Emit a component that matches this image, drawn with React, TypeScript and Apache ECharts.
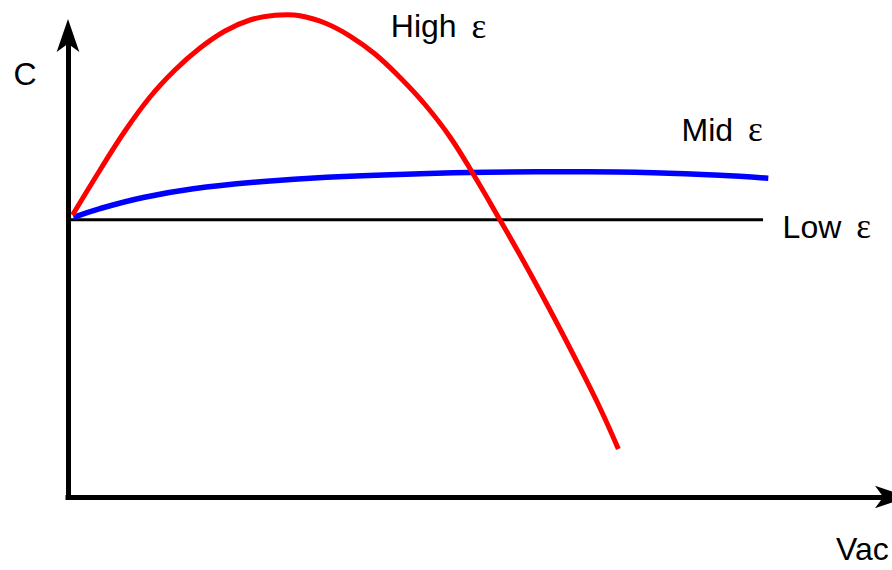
import React, { useEffect, useRef } from "react";
import * as echarts from "echarts";

// High ε curve (x, C)
const highX = [0.55, 3.89, 6.92, 9.96, 12.99, 16.03, 19.07, 22.1, 25.14, 26.59, 28.17, 31.21, 34.24, 37.28, 40.32, 43.35, 46.39, 49.42, 52.46, 55.5, 58.53, 61.57, 64.6, 66.83];
const highY = [61.1, 70.86, 79.31, 86.67, 92.52, 97.29, 100.98, 103.36, 104.38, 104.49, 104.27, 102.71, 99.89, 96.0, 90.9, 85.05, 78.01, 69.34, 60.02, 50.49, 40.52, 30.12, 19.28, 10.4];

// Mid ε curve
const midX = [0.67, 3.89, 9.14, 15.22, 23.32, 31.42, 42.74, 50.84, 62.99, 71.08, 79.17, 85.04];
const midY = [60.6, 62.5, 64.9, 66.8, 68.3, 69.3, 70.05, 70.36, 70.49, 70.27, 69.71, 69.06];

// Low ε line
const lowX = [0, 84.4];
const lowY = [60.1, 60.1];

const labels = ["High", "Mid", "Low"];
const epsilon = "ε";
const yName = "C";
const xName = "Vac";

const zip = (xs: number[], ys: number[]) => xs.map((x, i) => [x, ys[i]]);

const SANS = '"Liberation Sans", Arial, sans-serif';
const SERIF = '"Liberation Serif", "Times New Roman", serif';

function labelText(name: string, x: number, baseline: number) {
  return {
    type: "text",
    x,
    y: baseline - 11.1,
    style: {
      text: `{a|${name} }{b|${epsilon}}`,
      verticalAlign: "middle",
      rich: {
        a: { fontFamily: SANS, fontSize: 32, fill: "#000", lineHeight: 36 },
        b: { fontFamily: SERIF, fontSize: 35, fill: "#000", lineHeight: 36, padding: [0, 0, 0, 6] },
      },
    },
  };
}

export default function App() {
  const ref = useRef<HTMLDivElement>(null);

  useEffect(() => {
    if (!ref.current) return;
    const chart = echarts.init(ref.current, undefined, { renderer: "svg" });
    const axisLineStyle = { color: "#000", width: 5, cap: "square" };
    const axisCommon = {
      type: "value",
      min: 0,
      max: 100,
      axisLine: {
        show: true,
        onZero: false,
        symbol: ["none", "arrow"],
        symbolSize: [17, 33],
        symbolOffset: [0, 16.5],
        lineStyle: axisLineStyle,
      },
      axisTick: { show: false },
      axisLabel: { show: false },
      splitLine: { show: false },
    };
    chart.setOption({
      animation: false,
      backgroundColor: "#fff",
      grid: { left: 68, right: 0.5, top: 35.5, bottom: 73 },
      xAxis: axisCommon,
      yAxis: axisCommon,
      series: [
        {
          type: "line",
          name: "Low",
          data: zip(lowX, lowY),
          showSymbol: false,
          clip: false,
          lineStyle: { color: "#000", width: 3 },
          z: 2,
        },
        {
          type: "line",
          name: "Mid",
          data: zip(midX, midY),
          showSymbol: false,
          smooth: 0.4,
          clip: false,
          lineStyle: { color: "#0000ff", width: 5.5 },
          z: 3,
        },
        {
          type: "line",
          name: "High",
          data: zip(highX, highY),
          showSymbol: false,
          smooth: 0.4,
          clip: false,
          lineStyle: { color: "#ff0000", width: 5 },
          z: 4,
        },
      ],
      graphic: [
        labelText(labels[0], 390.8, 37.3),
        labelText(labels[1], 681.6, 141),
        labelText(labels[2], 782.6, 238),
        {
          type: "text",
          x: 13.4,
          y: 85.5 - 11.1,
          style: { text: yName, fontFamily: SANS, fontSize: 32, fill: "#000", verticalAlign: "middle" },
        },
        {
          type: "text",
          x: 836,
          y: 560 - 11.1,
          style: { text: xName, fontFamily: SANS, fontSize: 32, fill: "#000", verticalAlign: "middle" },
        },
      ],
    });
    return () => chart.dispose();
  }, []);

  return (
    <div
      ref={ref}
      style={{ position: "fixed", left: 0, top: 0, width: 892, height: 570, background: "#fff" }}
    />
  );
}
